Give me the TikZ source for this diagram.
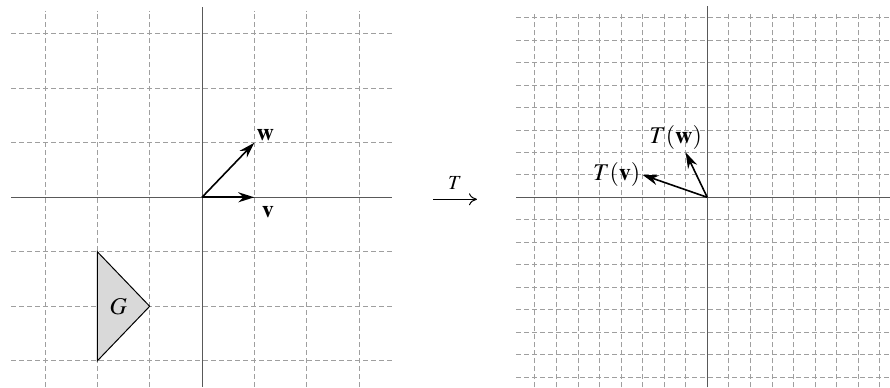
\documentclass[tikz,border=0pt]{standalone}
\usepackage{amsmath}
\usepackage{mathptmx}
\usetikzlibrary{arrows.meta}
\tikzset{
  gridline/.style={gray!75, dash pattern=on 2.5pt off 1.5pt, line width=0.35pt},
  axisline/.style={black!65, line width=0.45pt},
  vec/.style={-{Stealth[length=8pt,width=5pt]}, line width=0.8pt},
}
\begin{document}
\begin{tikzpicture}[x=26.15pt,y=27.25pt]
\useasboundingbox (-3.862,-3.481) rectangle (13.155,3.620);
% left grid
\foreach \k in {-3,-2,-1,1,2,3} {
  \draw[gridline] (-3.65,\k) -- (3.63,\k);
  \draw[gridline] (\k,-3.48) -- (\k,3.42);
}
\draw[axisline] (-3.65,0) -- (3.63,0);
\draw[axisline] (0,-3.48) -- (0,3.49);
\filldraw[fill=gray!30, line width=0.5pt] (-2,-1) -- (-1,-2) -- (-2,-3) -- cycle;
\node (G) at (-1.6,-2) {\large $G$};
\coordinate (O) at (0,0);
\coordinate (v) at (1,0);
\coordinate (w) at (1,1);
\draw[vec, line width=1pt] (O) -- (v);
\draw[vec] (O) -- (w);
\node[anchor=south west, inner sep=1pt] (wlab) at (w) {\large $\mathbf{w}$};
\node[anchor=north west, inner sep=1pt] (vlab) at (1.1,-0.12) {\large $\mathbf{v}$};
% the map
\coordinate (mapL) at (4.417,-0.037);
\coordinate (mapR) at (5.258,-0.037);
\draw[-{To[length=4pt,width=6pt]}, line width=0.5pt] (mapL) -- (mapR) node[midway,above=1.5pt] (T) {$T$};
% right grid
\begin{scope}[shift={(9.66,0)}, scale=0.412]
\foreach \k in {-8,...,-1,1,2,...,8} {
  \draw[gridline] (-8.86,\k) -- (8.9,\k);
  \draw[gridline] (\k,-8.47) -- (\k,8.27);
}
\draw[axisline] (-8.86,0) -- (8.9,0);
\draw[axisline] (0,-8.47) -- (0,8.5);
\coordinate (TO) at (0,0);
\coordinate (Tv) at (-3,1);
\coordinate (Tw) at (-1,2);
\draw[vec] (TO) -- (Tv);
\draw[vec] (TO) -- (Tw);
\node[anchor=east, inner sep=1pt] (Tvlab) at (Tv) {\large $T(\mathbf{v})$};
\node[anchor=south, inner sep=1pt, xshift=-5pt] (Twlab) at (Tw) {\large $T(\mathbf{w})$};
\end{scope}
\end{tikzpicture}
\end{document}
